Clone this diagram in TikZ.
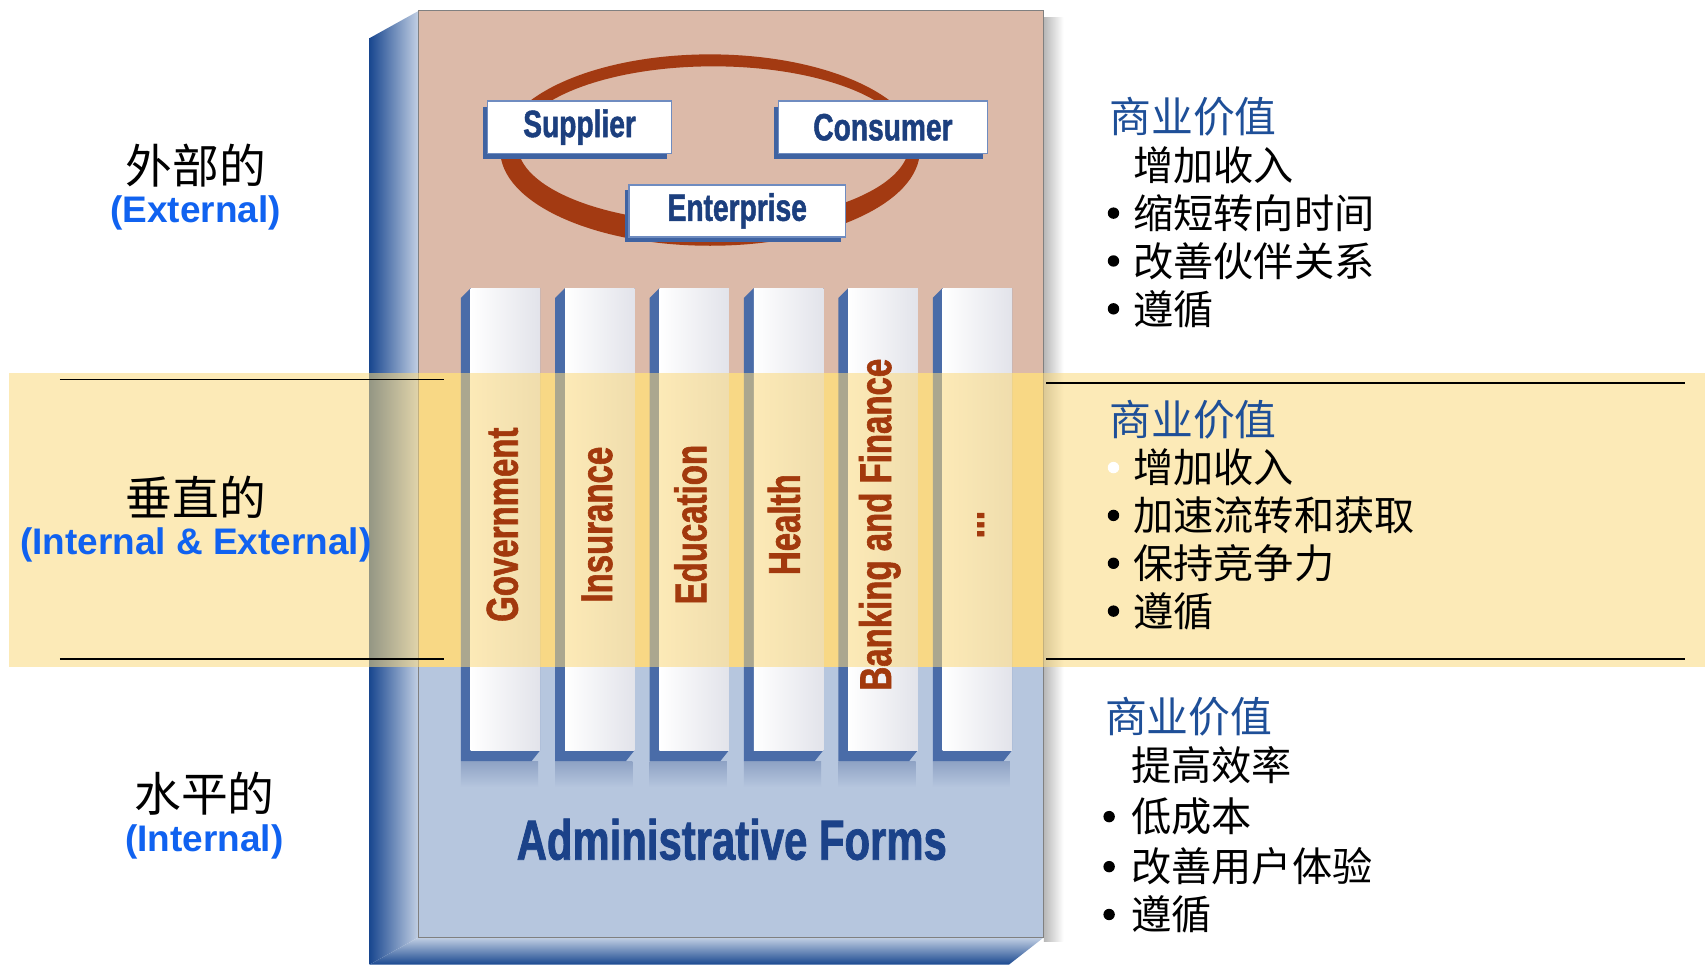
\documentclass[tikz,border=0pt]{standalone}
\usepackage{fontspec}
\setmainfont{Liberation Sans}
\newfontfamily\cjk{Noto Sans CJK SC}
\newfontfamily\condf[FakeStretch=0.75]{Liberation Sans}
\newfontfamily\condh[FakeStretch=0.74,FakeBold=1.3]{Liberation Sans}
\usetikzlibrary{shadows}
\definecolor{tanp}{HTML}{DCBAA9}
\definecolor{bluep}{HTML}{B6C6DE}
\definecolor{sidedark}{HTML}{1A4890}
\definecolor{sidelight}{HTML}{C3D0E4}
\definecolor{panelband}{HTML}{F6D890}
\definecolor{bandy}{HTML}{FBD97C}
\definecolor{colstrip}{HTML}{4A6CA8}
\definecolor{colgray}{HTML}{E2E3EA}
\definecolor{colshadow}{HTML}{8EA2C4}
\definecolor{ringc}{HTML}{A33A12}
\definecolor{cardedge}{HTML}{6F8CC0}
\definecolor{edgeblue}{HTML}{3F63A2}
\definecolor{cardtext}{HTML}{1C3F7E}
\definecolor{labelred}{HTML}{A2390D}
\definecolor{adminblue}{HTML}{1B4289}
\definecolor{engblue}{HTML}{1062F0}
\definecolor{hdrblue}{HTML}{1E4F98}
\begin{document}
\begin{tikzpicture}[x=1pt,y=-1pt,
  card/.style={draw=cardedge, line width=1.2pt, fill=white, inner sep=0pt,
    minimum height=48pt, text=cardtext,
    font=\condh\bfseries\fontsize{35}{40}\selectfont,
    drop shadow={shadow xshift=-4pt, shadow yshift=-5pt, fill=edgeblue, opacity=1}},
  collabel/.style={rotate=90, inner sep=0pt, text=labelred,
    font=\condh\bfseries\fontsize{41}{44}\selectfont},
  cjkleft/.style={inner sep=0pt, font=\cjk\fontsize{43}{48}\selectfont},
  engleft/.style={inner sep=0pt, text=engblue, font=\bfseries\fontsize{34}{38}\selectfont},
  hdr/.style={anchor=west, inner sep=0pt, text=hdrblue, font=\cjk\fontsize{38.5}{42}\selectfont},
  item/.style={anchor=west, inner sep=0pt, font=\cjk\fontsize{37}{42}\selectfont},
  dot/.style={circle, fill=black, minimum size=10.5pt, inner sep=0pt},
  sepline/.style={line width=1.8pt}]
\useasboundingbox (0,0) rectangle (1568,887);
\fill[white] (0,0) rectangle (1568,887);

% box sides
\shade[left color=sidedark, right color=sidelight] (340,35) -- (385,10) -- (385,862) -- (340,887) -- cycle;
\shade[bottom color=sidedark, top color=sidelight] (340,887) -- (385,862) -- (960,862) -- (928,887) -- cycle;
\shade[left color=black!28, right color=white] (960,16) rectangle (978,866);

% panel
\fill[tanp] (385,10) rectangle (960,480);
\fill[bluep] (385,480) rectangle (960,862);
\fill[panelband] (385,343) rectangle (960,613);
\draw[gray, line width=1pt] (385,10) rectangle (960,862);

% ring
\fill[ringc, even odd rule] (653,138) ellipse [x radius=193pt, y radius=88pt]
   (656,133) ellipse [x radius=180pt, y radius=72pt];

% cards
\node[card, minimum width=169pt] (sup) at (533,117) {Supplier};
\node[card, minimum width=192pt] (con) at (812,117) {Consumer};
\node[card, minimum width=199pt] (ent) at (678,194) {Enterprise};

% columns
\foreach \i in {0,...,5}{
  \pgfmathsetmacro{\L}{432.8+86.8*\i}
  \shade[top color=colshadow, bottom color=bluep] (\L-9,700) rectangle (\L+62,724);
  \fill[colstrip] (\L-9,274) -- (\L,265) -- (\L+64,265) -- (\L+64,690) -- (\L+56,700) -- (\L-9,700) -- cycle;
  \shade[left color=white, right color=colgray] (\L,265) rectangle (\L+64,690);
}

% horizontal band
\fill[bandy, fill opacity=0.55] (8,343) rectangle (1568,613);

% column labels
\node[collabel] (gov) at (462,482.5) {Government};
\node[collabel] (ins) at (549,482.5) {Insurance};
\node[collabel] (edu) at (635,482.5) {Education};
\node[collabel] (hea) at (721,482.5) {Health};
\node[collabel] (ban) at (809,482.5) {Banking and Finance};
\node[collabel] (etc) at (902,482.5) {...};

\node[inner sep=0pt, text=adminblue, font=\condh\bfseries\fontsize{52}{56}\selectfont] (adm) at (673,772) {Administrative Forms};

% separator lines
\coordinate (la1) at (55,349); \coordinate (lb1) at (408,349);
\coordinate (la2) at (55,606); \coordinate (lb2) at (408,606);
\coordinate (ra1) at (962,352); \coordinate (rb1) at (1550,352);
\coordinate (ra2) at (962,606); \coordinate (rb2) at (1550,606);
\draw[sepline] (la1) -- (lb1);
\draw[sepline] (la2) -- (lb2);
\draw[sepline] (ra1) -- (rb1);
\draw[sepline] (ra2) -- (rb2);

% left labels
\node[cjkleft] (wb) at (180,152) {外部的};
\node[engleft] (wbe) at (180,196) {(External)};
\node[cjkleft] (cz) at (180,457) {垂直的};
\node[engleft] (cze) at (180,501) {(Internal \& External)};
\node[cjkleft] (sp) at (188,730) {水平的};
\node[engleft] (spe) at (188,774) {(Internal)};

% right block 1
\node[hdr] (h1) at (1020,107) {商业价值};
\node[item] (a1) at (1042,152) {增加收入};
\node[item] (a2) at (1042,196) {缩短转向时间};
\node[item] (a3) at (1042,240) {改善伙伴关系};
\node[item] (a4) at (1042,284) {遵循};
\node[dot] (d12) at (1024,196) {};
\node[dot] (d13) at (1024,240) {};
\node[dot] (d14) at (1024,284) {};

% right block 2
\node[hdr] (h2) at (1020,386) {商业价值};
\node[item] (b1) at (1042,430) {增加收入};
\node[item] (b2) at (1042,474) {加速流转和获取};
\node[item] (b3) at (1042,518) {保持竞争力};
\node[item] (b4) at (1042,562) {遵循};
\node[dot, fill=white] (d21) at (1024,430) {};
\node[dot] (d22) at (1024,474) {};
\node[dot] (d23) at (1024,518) {};
\node[dot] (d24) at (1024,562) {};

% right block 3
\node[hdr] (h3) at (1016,659) {商业价值};
\node[item] (c1) at (1040,704) {提高效率};
\node[item] (c2) at (1040,751) {低成本};
\node[item] (c3) at (1040,797) {改善用户体验};
\node[item] (c4) at (1040,841) {遵循};
\node[dot] (d32) at (1020,751) {};
\node[dot] (d33) at (1020,797) {};
\node[dot] (d34) at (1020,841) {};
\end{tikzpicture}
\end{document}
